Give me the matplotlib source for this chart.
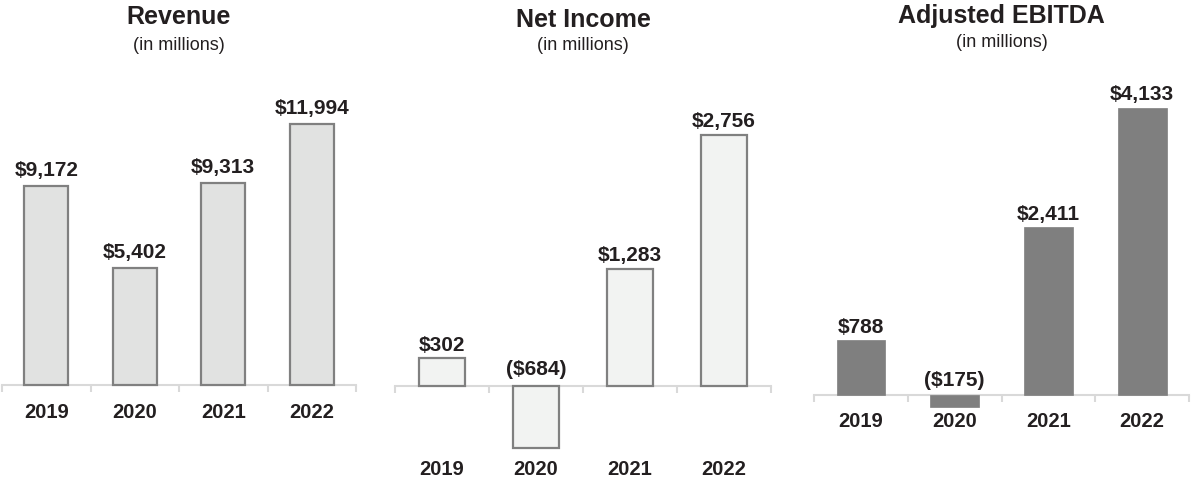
import matplotlib
matplotlib.use("Agg")
import matplotlib.pyplot as plt

plt.rcParams['font.family'] = ['Liberation Sans', 'DejaVu Sans']

years = ["2019", "2020", "2021", "2022"]
revenue = [9172, 5402, 9313, 11994]
net_income = [302, -684, 1283, 2756]
adj_ebitda = [788, -175, 2411, 4133]

titles = ["Revenue", "Net Income", "Adjusted EBITDA"]
subtitle = "(in millions)"

W, H = 1192, 480
DPI = 100
PX = 72.0 / DPI  # points per pixel
TXT = "#231f20"
AXC = "#d9d9d9"

fig = plt.figure(figsize=(W / DPI, H / DPI), dpi=DPI)
fig.patch.set_facecolor("white")

def fmt(v):
    return f"${v:,}" if v >= 0 else f"(${-v:,})"

panels = [
    # values, x0px, x1px, baseline row, top-of-max-bar row, fill, edge, lw, width,
    # pos label gap, neg label gap, year offset, title baseline, subtitle baseline
    dict(vals=revenue, x0=2, x1=356, base=385, top=124.5, fc="#e1e2e1", ec="#808080",
         lw=1.6, bw=0.5, gap=10, ngap=11, yoff=33, tb=24, sb=50),
    dict(vals=net_income, x0=395, x1=771, base=386, top=134.5, fc="#f2f3f2", ec="#808080",
         lw=1.6, bw=0.49, gap=7.5, ngap=11, yoff=89, tb=27, sb=50),
    dict(vals=adj_ebitda, x0=814, x1=1189, base=395, top=107.5, fc="#7f7f7f", ec="#7f7f7f",
         lw=0.5, bw=0.52, gap=7.5, ngap=9, yoff=32, tb=23, sb=47),
]

AX_TOP, AX_BOT = 60, 480

for p, title in zip(panels, titles):
    vals = p["vals"]
    scale = (p["base"] - p["top"]) / max(vals)
    ax = fig.add_axes([p["x0"] / W, (H - AX_BOT) / H, (p["x1"] - p["x0"]) / W, (AX_BOT - AX_TOP) / H])
    ax.set_xlim(-0.5, 3.5)
    ax.set_ylim((p["base"] - AX_BOT) / scale, (p["base"] - AX_TOP) / scale)
    ax.patch.set_alpha(0)
    x = list(range(len(years)))
    ax.bar(x, vals, width=p["bw"], color=p["fc"], edgecolor=p["ec"], linewidth=p["lw"], zorder=2)
    for s in ["top", "right", "left"]:
        ax.spines[s].set_visible(False)
    ax.spines["bottom"].set_position(("data", 0))
    ax.spines["bottom"].set_color(AXC)
    ax.spines["bottom"].set_linewidth(1.5)
    ax.spines["bottom"].set_zorder(1)
    ax.set_yticks([])
    ax.set_xticks([-0.5, 0.5, 1.5, 2.5, 3.5])
    ax.tick_params(axis="x", length=7 * PX, width=1.5, color=AXC, direction="out", labelbottom=False)
    for i, v in enumerate(vals):
        if v >= 0:
            ax.annotate(fmt(v), xy=(i, v), xytext=(0, p["gap"] * PX), textcoords="offset points",
                        ha="center", va="baseline", fontsize=15, fontweight="bold", color=TXT)
        else:
            ax.annotate(fmt(v), xy=(i, 0), xytext=(0, p["ngap"] * PX), textcoords="offset points",
                        ha="center", va="baseline", fontsize=15, fontweight="bold", color=TXT)
        ax.annotate(years[i], xy=(i, 0), xytext=(0, -p["yoff"] * PX), textcoords="offset points",
                    ha="center", va="baseline", fontsize=14.5, fontweight="bold", color=TXT)
    cx = (p["x0"] + p["x1"]) / 2 / W
    fig.text(cx, 1 - p["tb"] / H, title, ha="center", va="baseline", fontsize=18,
             fontweight="bold", color=TXT)
    fig.text(cx, 1 - p["sb"] / H, subtitle, ha="center", va="baseline", fontsize=13, color=TXT)

fig.savefig("out.png", dpi=DPI)
